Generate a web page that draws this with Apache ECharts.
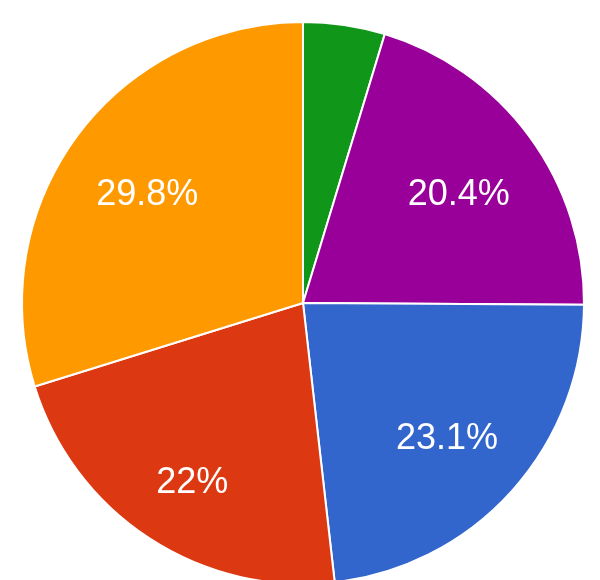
<!DOCTYPE html>
<html>
<head>
<meta charset="utf-8">
<script src="https://cdn.jsdelivr.net/npm/echarts@6/dist/echarts.min.js"></script>
<style>
    html, body { margin: 0; padding: 0; background: #ffffff; }
    #pie-box { width: 600px; height: 580px; }
</style>
</head>
<body>
<div id="pie-box"></div>
<script>
// 資料
var categories = ['A', 'B', 'C', 'D', 'E'];
var values = [4.7, 20.4, 23.1, 22, 29.8];
var sliceColors = ['#109618', '#990099', '#3366cc', '#dc3912', '#ff9900'];

pieChart();

function pieChart() {
    var chartDom = document.getElementById('pie-box');
    var myChart = echarts.init(chartDom);
    var option;

    var pieData = categories.map(function (name, i) {
        return { name: name, value: values[i], itemStyle: { color: sliceColors[i] } };
    });
    // 文字層：透明的環形，讓標籤落在約 0.67 半徑的位置
    var labelData = categories.map(function (name, i) {
        return {
            name: name,
            value: values[i],
            label: { show: values[i] >= 5 }
        };
    });

    option = {
        animation: false,
        series: [
            {
                type: 'pie',
                center: [303, 303],
                radius: [0, 281],
                startAngle: 90,
                clockwise: true,
                silent: true,
                label: { show: false },
                labelLine: { show: false },
                itemStyle: {
                    borderColor: '#ffffff',
                    borderWidth: 2
                },
                data: pieData
            },
            {
                type: 'pie',
                center: [303, 303],
                radius: [100, 281],
                startAngle: 90,
                clockwise: true,
                silent: true,
                itemStyle: { color: 'rgba(0,0,0,0)' },
                labelLine: { show: false },
                label: {
                    position: 'inside',
                    color: '#ffffff',
                    fontSize: 36,
                    fontFamily: 'Liberation Sans, Arial',
                    formatter: function (p) {
                        return p.value + '%';
                    }
                },
                // 微調：整體往下一點，底部被裁切的紅色那塊再往外
                labelLayout: function (params) {
                    if (params.dataIndex === 3) {
                        return { dx: -5, dy: 18 };
                    }
                    return { dy: 7 };
                },
                data: labelData
            }
        ]
    };

    option && myChart.setOption(option);
}
</script>
</body>
</html>
